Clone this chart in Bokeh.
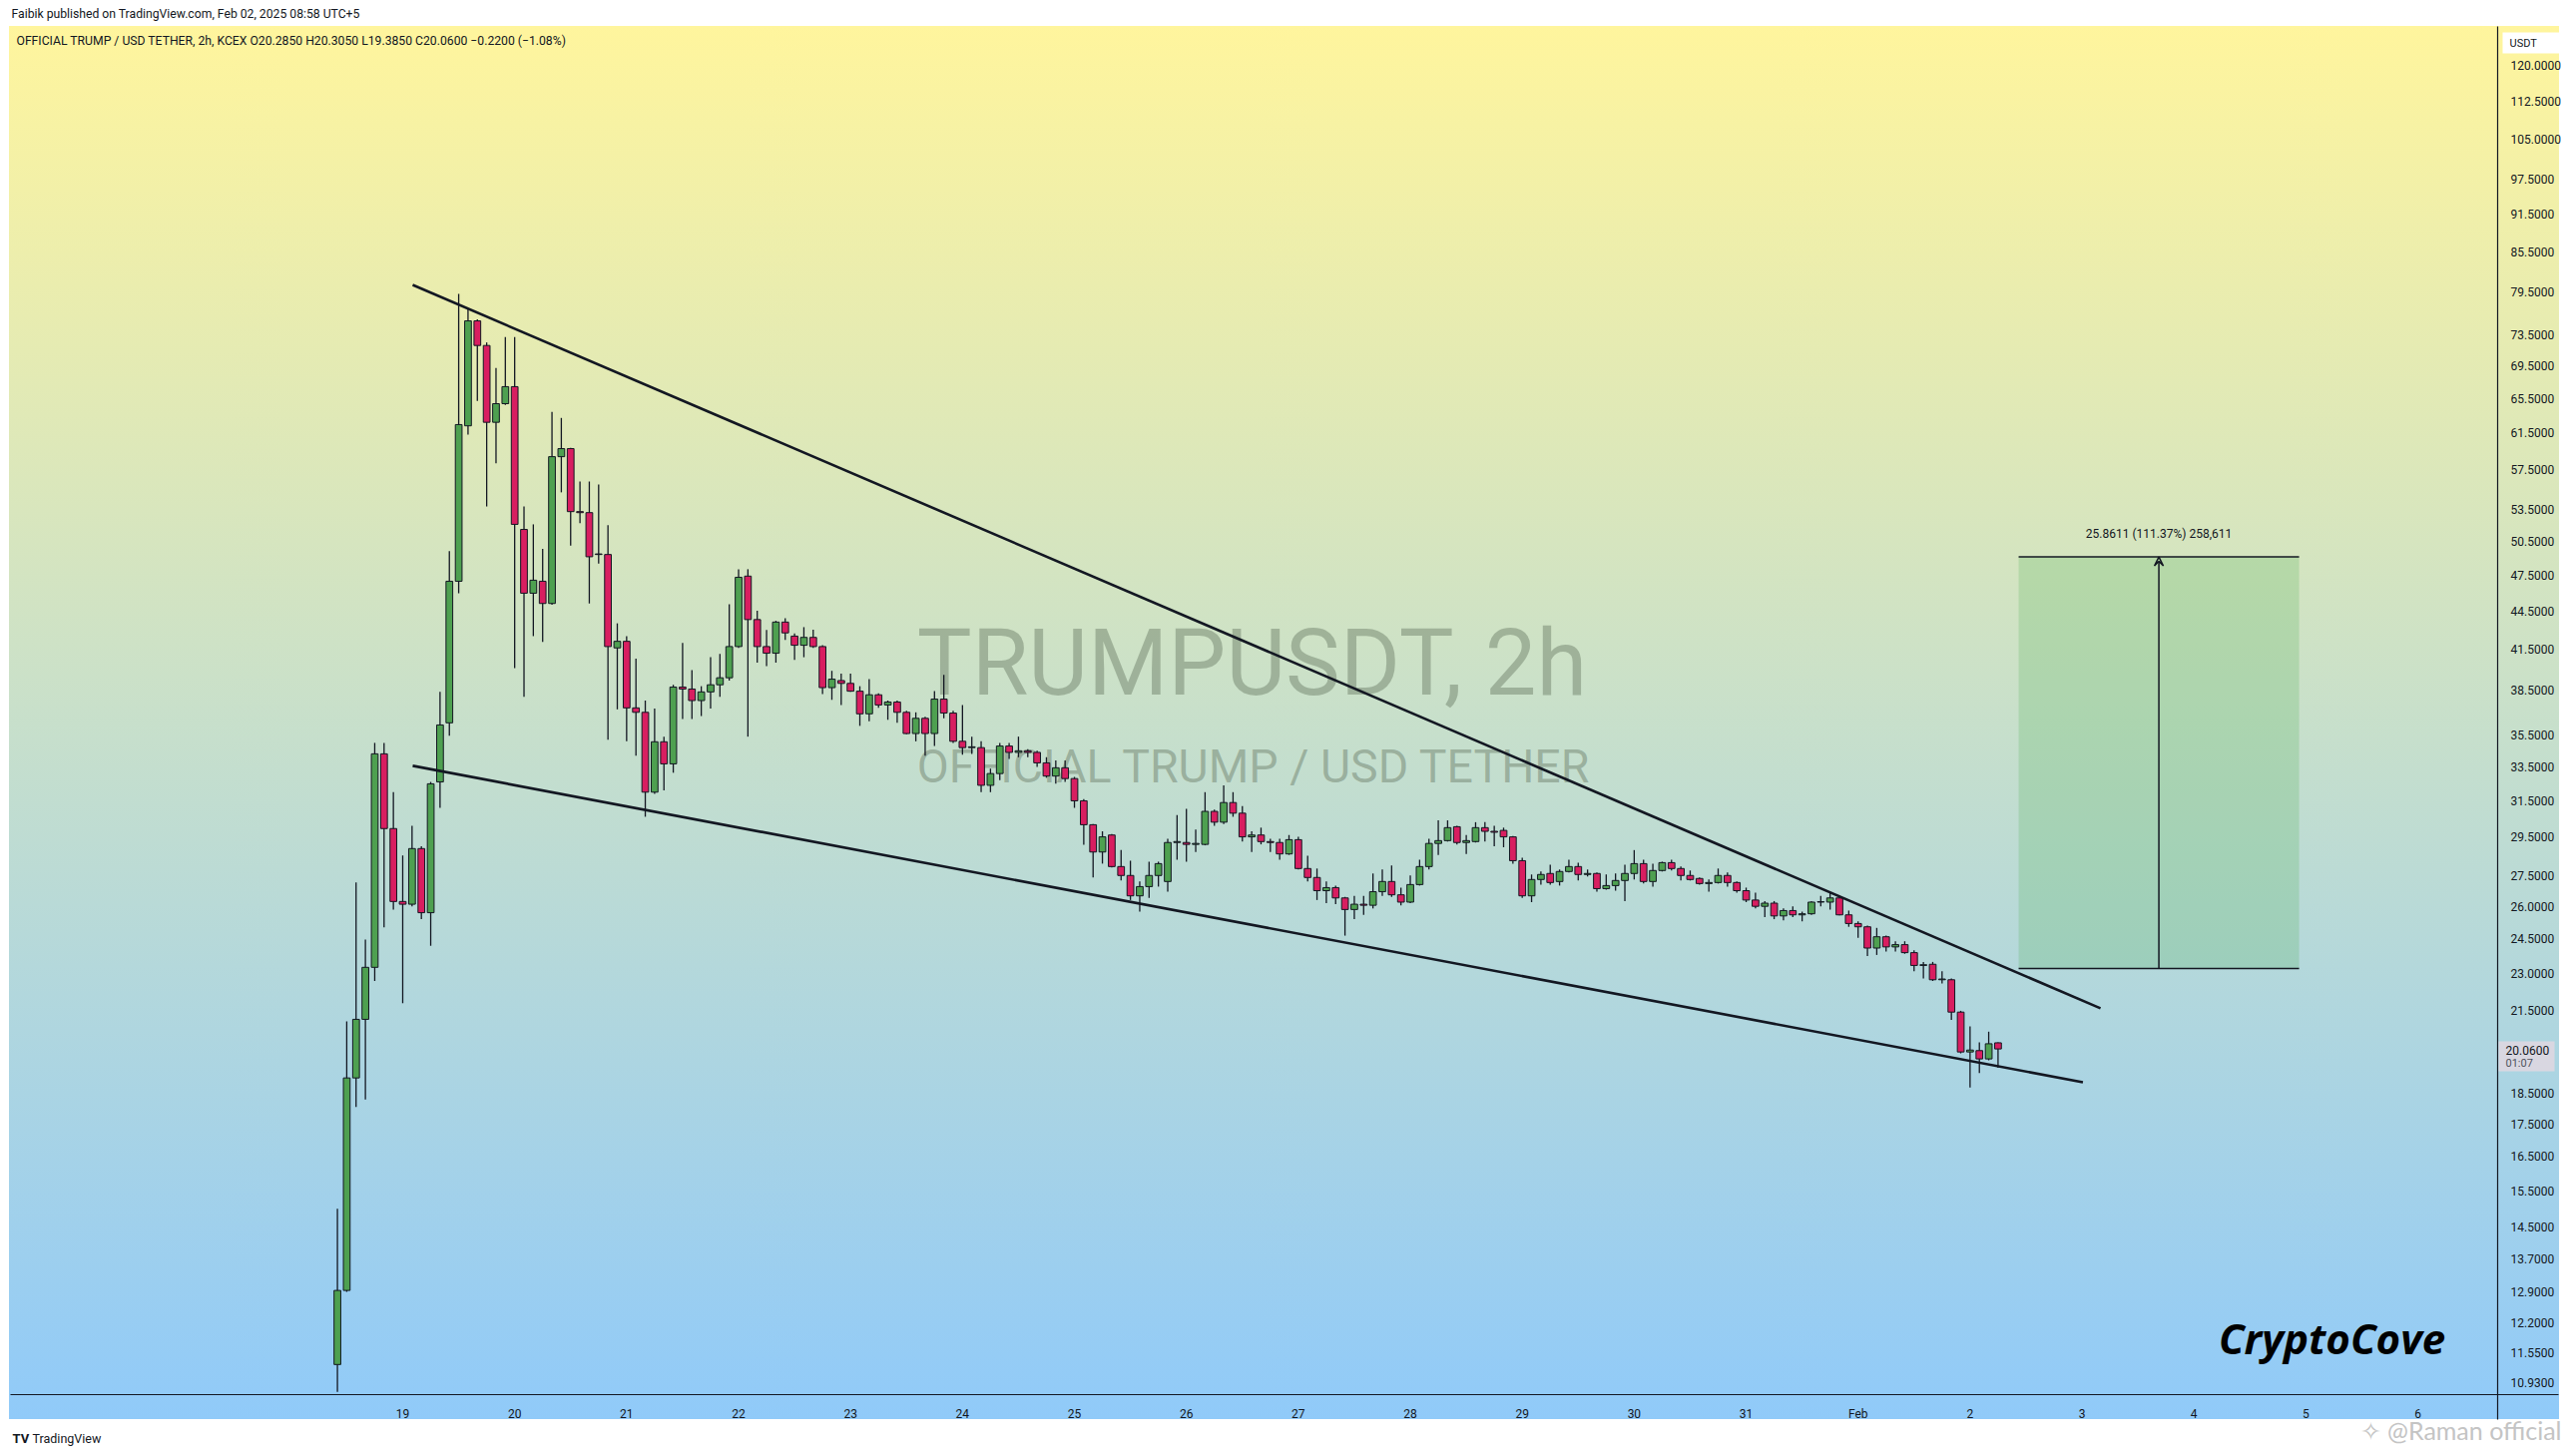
import math
from bokeh.plotting import figure
from bokeh.models import Range1d, FixedTicker, PrintfTickFormatter, Label, ColumnDataSource, Arrow, VeeHead
from bokeh.embed import file_html
from bokeh.resources import INLINE

# ---------------- data (2h candles, first bar Jan 18 10:00 UTC+5) ----------------
bar_open = [11.30, 12.93, 19.03, 21.17, 23.27, 34.31, 29.95, 26.23, 26.10, 28.88,
            25.70, 32.60, 36.30, 46.96, 62.30, 75.40, 72.10, 62.70, 64.86, 66.90,
            51.60, 45.95, 46.96, 45.10, 58.90, 59.77, 53.30, 53.20, 49.30, 49.30,
            41.60, 42.10, 37.30, 37.00, 32.00, 35.07, 33.69, 38.74, 38.60, 37.80,
            38.40, 38.90, 39.40, 41.70, 47.40, 43.80, 41.70, 41.20, 43.60, 42.50,
            41.80, 42.40, 41.70, 38.70, 39.20, 39.00, 38.45, 36.90, 38.20, 37.50,
            37.70, 37.00, 35.60, 36.60, 35.60, 37.90, 36.95, 35.10, 34.70, 34.70,
            32.40, 33.10, 34.80, 34.40, 34.50, 34.40, 33.75, 32.95, 33.45, 32.80,
            31.50, 30.16, 28.70, 29.60, 27.95, 27.50, 26.50, 26.95, 27.50, 27.20,
            29.20, 29.20, 29.10, 29.10, 30.90, 30.30, 31.40, 30.80, 29.50, 29.60,
            29.25, 29.20, 28.60, 29.35, 27.85, 27.40, 26.75, 26.90, 26.40, 25.85,
            26.10, 26.05, 26.70, 27.20, 26.55, 26.20, 27.05, 27.95, 29.15, 29.30,
            30.05, 29.20, 29.25, 30.00, 29.80, 29.85, 29.50, 28.25, 26.50, 27.30,
            27.60, 27.20, 27.70, 27.95, 27.55, 27.60, 26.85, 27.00, 27.25, 27.60,
            28.10, 27.20, 27.75, 28.15, 27.85, 27.50, 27.35, 27.10, 27.15, 27.50,
            27.15, 26.75, 26.30, 26.00, 26.15, 25.55, 25.80, 25.60, 25.65, 26.20,
            26.20, 26.40, 25.60, 25.20, 25.05, 24.10, 24.60, 24.15, 24.25, 23.90,
            23.35, 23.40, 22.75, 22.75, 21.45, 19.95, 20.00, 19.70, 20.285]
bar_high = [15.00, 21.09, 27.15, 24.48, 35.00, 35.00, 32.00, 28.52, 30.10, 29.00,
            32.60, 38.40, 49.60, 79.20, 77.10, 75.60, 72.50, 69.20, 73.20, 73.20,
            53.80, 52.08, 49.80, 63.90, 63.20, 59.85, 56.30, 56.30, 56.00, 52.00,
            43.50, 42.50, 40.80, 37.80, 37.25, 35.40, 38.90, 41.97, 39.95, 38.80,
            40.90, 41.14, 45.04, 48.00, 48.00, 44.50, 42.97, 43.70, 43.90, 42.70,
            43.20, 43.00, 41.80, 39.90, 39.70, 39.70, 38.80, 39.30, 38.30, 37.80,
            37.80, 37.10, 37.00, 36.70, 38.45, 39.60, 37.10, 37.50, 35.40, 35.10,
            33.40, 35.00, 35.00, 35.40, 34.60, 34.50, 34.10, 33.90, 33.90, 32.90,
            31.60, 30.20, 29.80, 29.65, 28.80, 28.25, 27.20, 28.20, 28.20, 29.40,
            30.70, 31.05, 29.90, 32.00, 31.00, 32.40, 32.00, 31.20, 29.80, 30.00,
            29.40, 29.40, 29.60, 29.50, 28.50, 27.85, 27.20, 27.00, 26.45, 26.50,
            26.50, 27.60, 27.80, 28.00, 26.90, 27.50, 28.30, 29.40, 30.40, 30.40,
            30.10, 29.60, 30.30, 30.30, 30.10, 30.00, 29.55, 28.40, 27.55, 27.70,
            28.05, 27.80, 28.30, 28.15, 27.80, 27.65, 27.55, 27.60, 28.05, 28.80,
            28.30, 28.10, 28.20, 28.30, 27.95, 27.75, 27.40, 27.30, 27.85, 27.65,
            27.20, 26.90, 26.65, 26.25, 26.25, 25.90, 26.00, 25.75, 26.25, 26.50,
            26.65, 26.50, 25.80, 25.30, 25.10, 25.00, 24.65, 24.40, 24.40, 24.00,
            23.50, 23.50, 23.10, 22.80, 21.50, 20.90, 20.30, 20.70, 20.305]
bar_low = [10.75, 12.90, 18.05, 18.30, 22.70, 25.02, 25.85, 21.80, 26.00, 25.40,
           24.20, 31.10, 35.45, 45.95, 61.30, 65.20, 53.80, 58.20, 64.70, 40.10,
           38.05, 42.50, 42.05, 45.00, 55.20, 50.10, 52.20, 45.10, 48.50, 35.20,
           37.20, 35.10, 34.20, 30.60, 31.90, 32.10, 33.15, 36.55, 36.55, 36.75,
           37.25, 38.05, 39.20, 41.60, 35.40, 40.50, 40.25, 40.50, 42.20, 40.70,
           40.90, 41.60, 38.25, 37.85, 37.50, 38.40, 36.10, 36.40, 37.30, 36.50,
           36.30, 35.55, 35.10, 34.20, 34.80, 36.60, 35.00, 34.25, 34.30, 32.00,
           32.00, 32.70, 34.00, 34.10, 34.10, 33.50, 32.85, 32.50, 32.60, 31.10,
           29.08, 27.40, 28.10, 27.90, 27.25, 26.30, 25.75, 26.40, 26.95, 26.70,
           28.30, 28.20, 28.70, 29.05, 30.10, 30.20, 30.60, 29.25, 28.70, 29.10,
           28.70, 28.30, 28.55, 27.80, 27.20, 26.30, 26.15, 26.10, 24.65, 25.40,
           25.60, 25.90, 26.50, 26.45, 26.05, 26.15, 27.00, 27.80, 28.55, 29.25,
           29.10, 28.60, 29.20, 29.25, 29.00, 28.95, 28.10, 26.40, 26.20, 27.05,
           27.05, 27.00, 27.65, 27.25, 27.45, 26.70, 26.80, 26.75, 26.25, 27.30,
           27.10, 26.95, 27.70, 27.75, 27.25, 27.25, 27.05, 26.70, 27.10, 26.95,
           26.65, 26.20, 25.90, 25.50, 25.40, 25.35, 25.50, 25.30, 25.60, 26.00,
           25.85, 25.58, 25.05, 24.55, 23.75, 23.80, 23.95, 23.95, 23.85, 23.10,
           22.80, 22.70, 22.60, 21.15, 19.90, 18.70, 19.20, 19.65, 19.385]
bar_close = [12.93, 19.03, 21.17, 23.27, 34.31, 29.95, 26.23, 26.10, 28.88, 25.70,
             32.49, 36.16, 46.96, 62.44, 75.40, 72.10, 62.70, 64.86, 66.90, 52.08,
             45.95, 47.05, 45.10, 58.90, 59.77, 53.30, 53.20, 49.10, 49.35, 41.70,
             42.10, 37.30, 37.00, 32.00, 35.07, 33.69, 38.74, 38.60, 37.80, 38.40,
             38.90, 39.40, 41.70, 47.30, 43.80, 41.70, 41.20, 43.60, 42.75, 41.80,
             42.40, 41.70, 38.70, 39.30, 39.00, 38.45, 36.90, 38.20, 37.50, 37.70,
             37.00, 35.60, 36.60, 35.60, 37.90, 36.95, 35.10, 34.70, 34.75, 32.40,
             33.10, 34.80, 34.40, 34.50, 34.40, 33.75, 32.95, 33.45, 32.80, 31.50,
             30.16, 28.70, 29.50, 27.95, 27.50, 26.50, 26.95, 27.50, 28.10, 29.20,
             29.25, 29.10, 29.15, 30.90, 30.30, 31.40, 30.80, 29.50, 29.60, 29.25,
             29.20, 28.60, 29.35, 27.85, 27.40, 26.75, 26.90, 26.40, 25.85, 26.10,
             26.05, 26.70, 27.20, 26.55, 26.20, 27.05, 27.95, 29.15, 29.30, 30.00,
             29.20, 29.30, 30.00, 29.80, 29.75, 29.50, 28.25, 26.50, 27.30, 27.55,
             27.15, 27.70, 27.95, 27.55, 27.60, 26.85, 27.00, 27.25, 27.60, 28.10,
             27.20, 27.75, 28.15, 27.85, 27.50, 27.30, 27.10, 27.15, 27.50, 27.15,
             26.75, 26.30, 26.00, 26.15, 25.55, 25.80, 25.60, 25.65, 26.20, 26.22,
             26.40, 25.60, 25.20, 25.05, 24.10, 24.60, 24.15, 24.25, 23.90, 23.35,
             23.38, 22.75, 22.78, 21.45, 19.95, 20.02, 19.70, 20.25, 20.06]
first_bar_hour = 10          # Jan 18, 10:00
bar_hours = 2

x_tick_days = [1, 2, 3, 4, 5, 6, 7, 8, 9, 10, 11, 12, 13, 14, 15, 16, 17, 18, 19]   # days after Jan 18
x_tick_labels = ["19", "20", "21", "22", "23", "24", "25", "26", "27", "28",
                 "29", "30", "31", "Feb", "2", "3", "4", "5", "6"]
y_tick_values = [120.0, 112.5, 105.0, 97.5, 91.5, 85.5, 79.5, 73.5, 69.5, 65.5, 61.5,
                 57.5, 53.5, 50.5, 47.5, 44.5, 41.5, 38.5, 35.5, 33.5, 31.5, 29.5,
                 27.5, 26.0, 24.5, 23.0, 21.5, 18.5, 17.5, 16.5, 15.5, 14.5, 13.7,
                 12.9, 12.2, 11.55, 10.93]

upper_line_x = [1.089, 16.165]
upper_line_y = [80.49, 21.60]
lower_line_x = [1.089, 16.008]
lower_line_y = [33.57, 18.88]

range_x = [15.434, 17.939]
range_low = 23.2213
range_high = 49.0824
range_text = "25.8611 (111.37%) 258,611"

last_price = 20.06
countdown = "01:07"

# ---------------- layout helpers (page pixels -> data) ----------------
W, H = 2572, 1451
PX_PER_DAY = 112.17


def dx(px):
    return 1 + (px - 403) / PX_PER_DAY


def dy(py):
    return 120.0 * math.exp(-(py - 65) / 551.0)


n = len(bar_open)
xs = [(first_bar_hour + bar_hours * i) / 24.0 for i in range(n)]
up = [c >= o for o, c in zip(bar_open, bar_close)]
src = ColumnDataSource(dict(
    x=xs, o=bar_open, h=bar_high, l=bar_low, c=bar_close,
    top=[max(o, c) for o, c in zip(bar_open, bar_close)],
    bot=[min(o, c) for o, c in zip(bar_open, bar_close)],
    col=["#4ea050" if u else "#d81e60" for u in up],
))

p = figure(width=W, height=H, output_backend="svg", toolbar_location=None,
           x_range=Range1d(dx(0), dx(W)), y_range=Range1d(dy(H), dy(0)), y_axis_type="log",
           y_axis_location="right", min_border=0)
p.border_fill_color = None
p.background_fill_color = None
p.outline_line_color = None
p.grid.visible = False
p.styles = {
    "background-image": (
        "linear-gradient(to right, #ffffff 0px, #ffffff 9px, rgba(255,255,255,0) 9px, "
        "rgba(255,255,255,0) 2564px, #ffffff 2564px), "
        "linear-gradient(to bottom, #ffffff 0px, #ffffff 26px, #fff59d 26px, "
        "#90caf9 1422px, #ffffff 1422px, #ffffff 100%)"
    )
}

# axes (drawn at the price-scale / time-scale positions of the panel)
p.xaxis.ticker = FixedTicker(ticks=x_tick_days)
p.xaxis.major_label_overrides = {d: s for d, s in zip(x_tick_days, x_tick_labels)}
p.yaxis.ticker = FixedTicker(ticks=y_tick_values)
p.yaxis.formatter = PrintfTickFormatter(format="%.4f")
for ax in (p.xaxis[0], p.yaxis[0]):
    ax.axis_line_color = None
    ax.major_tick_line_color = None
    ax.minor_tick_line_color = None
    ax.major_label_text_font = "Roboto"
    ax.major_label_text_font_size = "12px"
    ax.major_label_text_color = "#131722"
p.xaxis.fixed_location = dy(1397)
p.yaxis.fixed_location = dx(2502)
p.xaxis.major_label_standoff = 6
p.yaxis.major_label_standoff = 7
p.yaxis.major_label_text_align = "left"

# panel separator lines
p.segment(x0=[dx(2502), dx(10)], x1=[dx(2502), dx(2563)], y0=[dy(26), dy(1397)],
          y1=[dy(1422), dy(1397)], line_color="#131722", line_width=1.2)


def add_label(text, px, py, size, align="left", color="#131722", font="Roboto",
              style="normal", alpha=1.0, level="annotation"):
    lab = Label(x=dx(px), y=dy(py), text=text, text_font=font, text_font_size=size,
                text_align=align, text_baseline="middle", text_color=color,
                text_font_style=style, text_alpha=alpha, level=level)
    p.add_layout(lab)
    return lab


# watermark (behind everything)
add_label("TRUMPUSDT, 2h", 1254, 664, "92px", align="center", color="#5f6f5a",
          alpha=0.42, level="underlay")
add_label("OFFICIAL TRUMP / USD TETHER", 1256, 767, "46.5px", align="center",
          color="#5f6f5a", alpha=0.42, level="underlay")

# price-range box
p.quad(left=[range_x[0]], right=[range_x[1]], bottom=[range_low], top=[range_high],
       fill_color="#4caf50", fill_alpha=0.225, line_color=None)
p.segment(x0=[range_x[0], range_x[0]], x1=[range_x[1], range_x[1]],
          y0=[range_low, range_high], y1=[range_low, range_high],
          line_color="#131722", line_width=1.5)
mid = (range_x[0] + range_x[1]) / 2
p.add_layout(Arrow(end=VeeHead(size=9, line_color="#131722", line_width=1.5, fill_color=None),
                   x_start=mid, y_start=range_low, x_end=mid, y_end=range_high,
                   line_color="#131722", line_width=1.5))
p.add_layout(Label(x=mid, y=range_high, y_offset=23, text=range_text, text_font="Roboto",
                   text_font_size="12px", text_align="center", text_baseline="middle",
                   text_color="#131722"))

# candles
p.segment(x0="x", x1="x", y0="l", y1="h", source=src, line_color="#131722", line_width=1.3)
p.vbar(x="x", width=0.06, top="top", bottom="bot", source=src, fill_color="col",
       line_color="#131722", line_width=1)

# wedge lines
p.line(upper_line_x, upper_line_y, line_color="#131722", line_width=2.6)
p.line(lower_line_x, lower_line_y, line_color="#131722", line_width=2.6)

# price-scale boxes
p.quad(left=[dx(2507), dx(2503)], right=[dx(2565), dx(2559)], bottom=[dy(53), dy(1073)],
       top=[dy(32), dy(1043)], fill_color=["#ffffff", "#d9d7e1"], line_color=None)
add_label("USDT", 2514, 43, "11px")
add_label("%.4f" % last_price, 2510, 1052, "12px")
add_label(countdown, 2510, 1065, "11px", color="#50535e")

# texts
add_label("Faibik published on TradingView.com, Feb 02, 2025 08:58 UTC+5", 11, 13, "12.2px")
add_label("OFFICIAL TRUMP / USD TETHER, 2h, KCEX  O20.2850  H20.3050  L19.3850  C20.0600  \u22120.2200 (\u22121.08%)",
          16, 40, "12.2px")
add_label("CryptoCove", 2336, 1340, "42px", align="center", color="#000000",
          font="Open Sans", style="bold italic")
add_label("TV", 12, 1441, "13px", style="bold")
add_label("TradingView", 32, 1441, "12.5px")
add_label("\u2727 @Raman official", 2566, 1432, "25px", align="right", color="#c4c4c4",
          font="Lato")

open("out.html", "w").write(file_html(p, INLINE))
